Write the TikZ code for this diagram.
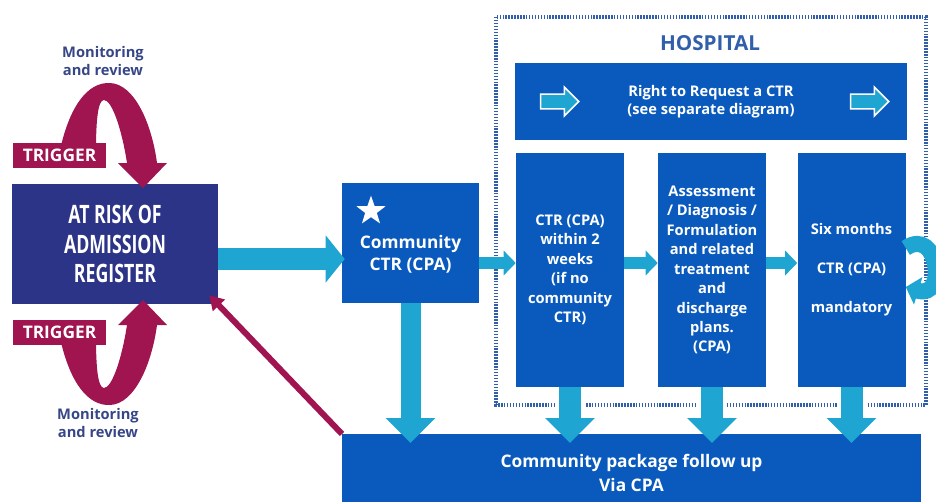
\documentclass[tikz,border=0pt]{standalone}
\usepackage{fontspec}
\setmainfont{Open Sans}
\usetikzlibrary{arrows.meta,shapes.geometric,shapes.arrows,calc}

\definecolor{regnavy}{RGB}{44,52,135}
\definecolor{trigmag}{RGB}{160,20,80}
\definecolor{boxblue}{RGB}{10,90,190}
\definecolor{flowcyan}{RGB}{30,165,210}
\definecolor{labnavy}{RGB}{55,70,135}
\definecolor{hospline}{RGB}{50,95,170}

\begin{document}
\begin{tikzpicture}[x=0.75pt,y=-0.75pt,
  bluebox/.style={fill=boxblue, text=white, inner sep=0pt, align=center,
    font=\bfseries\fontsize{11}{14.6}\selectfont},
  regbox/.style={fill=regnavy, text=white, inner sep=0pt, align=center,
    minimum width=154.5pt, minimum height=90pt,
    font=\bfseries\fontsize{19}{22}\selectfont},
  triglabel/.style={fill=trigmag, text=white, inner sep=0pt,
    minimum width=69.75pt, minimum height=18.75pt,
    font=\bfseries\fontsize{13}{15}\selectfont},
  monlabel/.style={text=labnavy, align=center, inner sep=0pt,
    font=\bfseries\fontsize{11}{13.5}\selectfont},
  tallbox/.style={bluebox, minimum width=81pt, minimum height=175.5pt},
  bigflow/.style={draw=flowcyan, line width=16.5pt,
    -{Triangle[width=34.5pt,length=14.25pt]}},
  downflow/.style={draw=flowcyan, line width=16.5pt,
    -{Triangle[width=36pt,length=18.75pt]}},
  smallflow/.style={draw=flowcyan, line width=9pt,
    -{Triangle[width=18pt,length=9pt]}},
  gapcut/.style={draw=white, line width=22.5pt},
  hollowarrow/.style={single arrow, fill=flowcyan, draw=white, line width=1.2pt,
    inner sep=4.9pt, single arrow head extend=5.25pt, minimum height=28.5pt,
    single arrow head indent=0pt},
  loopfill/.style={fill=trigmag}
]
\useasboundingbox (0,0) rectangle (936,501);
\clip (0,0) rectangle (936,501);

% register box
\node[regbox] (reg) at (115,244)
  {\scalebox{0.7}[1]{AT RISK OF}\\\scalebox{0.7}[1]{ADMISSION}\\\scalebox{0.7}[1]{REGISTER}};

% monitoring loops (upper, and its mirror image below the register)
\fill[loopfill] (60,150) .. controls (70,105) and (88,82) .. (110,83)
  .. controls (135,84) and (152,125) .. (157,163)
  -- (167,163) -- (143,188) -- (118,163) -- (127,163)
  .. controls (122,130) and (112,100) .. (104,100)
  .. controls (98,100) and (96,120) .. (96,150) -- cycle;
\begin{scope}[shift={(0,488)}, yscale=-1]
\fill[loopfill] (60,150) .. controls (70,105) and (88,82) .. (110,83)
  .. controls (135,84) and (152,125) .. (157,163)
  -- (167,163) -- (143,188) -- (118,163) -- (127,163)
  .. controls (122,130) and (112,100) .. (104,100)
  .. controls (98,100) and (96,120) .. (96,150) -- cycle;
\end{scope}

\node[triglabel] (trigtop) at (59.5,155) {TRIGGER};
\node[triglabel] (trigbot) at (59.5,332) {TRIGGER};
\node[monlabel] (montop) at (103,61) {Monitoring\\and review};
\node[monlabel] (monbot) at (98,423) {Monitoring\\and review};

% hospital frame
\draw[hospline, line width=3.6pt, dash pattern=on 1.1pt off 1.1pt]
  (496,17) rectangle (926,405);
\node[text=hospline, font=\bfseries\fontsize{15.5}{18}\selectfont] (hosp) at (710,43) {HOSPITAL};

% boxes
\node[bluebox, minimum width=102.75pt, minimum height=90pt] (cctr) at (410.5,243) {};
\node[text=white, align=center, inner sep=0pt,
  font=\bfseries\fontsize{13}{16.5}\selectfont] (cctrtext) at ($(cctr.center)+(0,11)$)
  {Community\\CTR (CPA)};
\node[star, star points=5, star point ratio=2.5, fill=white, inner sep=0pt,
  minimum size=23pt] (star) at (371,211) {};
\node[bluebox, minimum width=294pt, minimum height=57.75pt,
  font=\bfseries\fontsize{11}{13.5}\selectfont] (rtr) at (711,101.5)
  {Right to Request a CTR\\(see separate diagram)};
\node[hollowarrow] (rarrl) at (556,101.5) {};
\node[hollowarrow] (rarrr) at (866,101.5) {};

\node[tallbox] (boxa) at (570,270)
  {CTR (CPA)\\within 2\\weeks\\(if no\\community\\CTR)};
\node[tallbox] (boxb) at (712,270)
  {Assessment\\/ Diagnosis /\\Formulation\\and related\\treatment\\and\\discharge\\plans.\\(CPA)};
\node[tallbox] (boxc) at (851.5,270)
  {Six months\\[14.6pt]CTR (CPA)\\[14.6pt]mandatory};

% return arrow into the register
\draw[trigmag, line width=4.5pt, -{Triangle[width=12pt,length=10.5pt]}]
  (342,434) -- ($(reg.south east)+(-9,-9)$);

% follow-up box
\node[bluebox, minimum width=434.25pt, minimum height=58.5pt,
  font=\bfseries\fontsize{13}{17.5}\selectfont] (pkg) at (631.5,473)
  {Community package follow up\\Via CPA};

% flow arrows
\coordinate (midrow) at (0,263);
\coordinate (tipline) at (0,443);
\coordinate (gapline) at (0,415);

\draw[bigflow] ($(reg.east)+(0,15)$) -- ($(cctr.west)+(3,16)$);
\draw[smallflow] (cctr.east |- midrow) -- (boxa.west |- midrow);
\draw[smallflow] (boxa.east |- midrow) -- (boxb.west |- midrow);
\draw[smallflow] (boxb.east |- midrow) -- (boxc.west |- midrow);

\draw[downflow, line width=15pt] (cctr.south) -- (cctr.south |- tipline);
\foreach \b in {boxa,boxb,boxc}{
  \draw[gapcut] (\b.south) -- (\b.south |- gapline);
  \draw[downflow] (\b.south) -- (\b.south |- tipline);
}

% loop back into the six-month review
\draw[draw=flowcyan, line width=12pt, -{Triangle[width=21pt,length=9.75pt]}]
  ($(boxc.east)+(0,-22)$) .. controls (938,226) and (948,300) .. ($(boxc.east)+(0,17)$);
\end{tikzpicture}
\end{document}
